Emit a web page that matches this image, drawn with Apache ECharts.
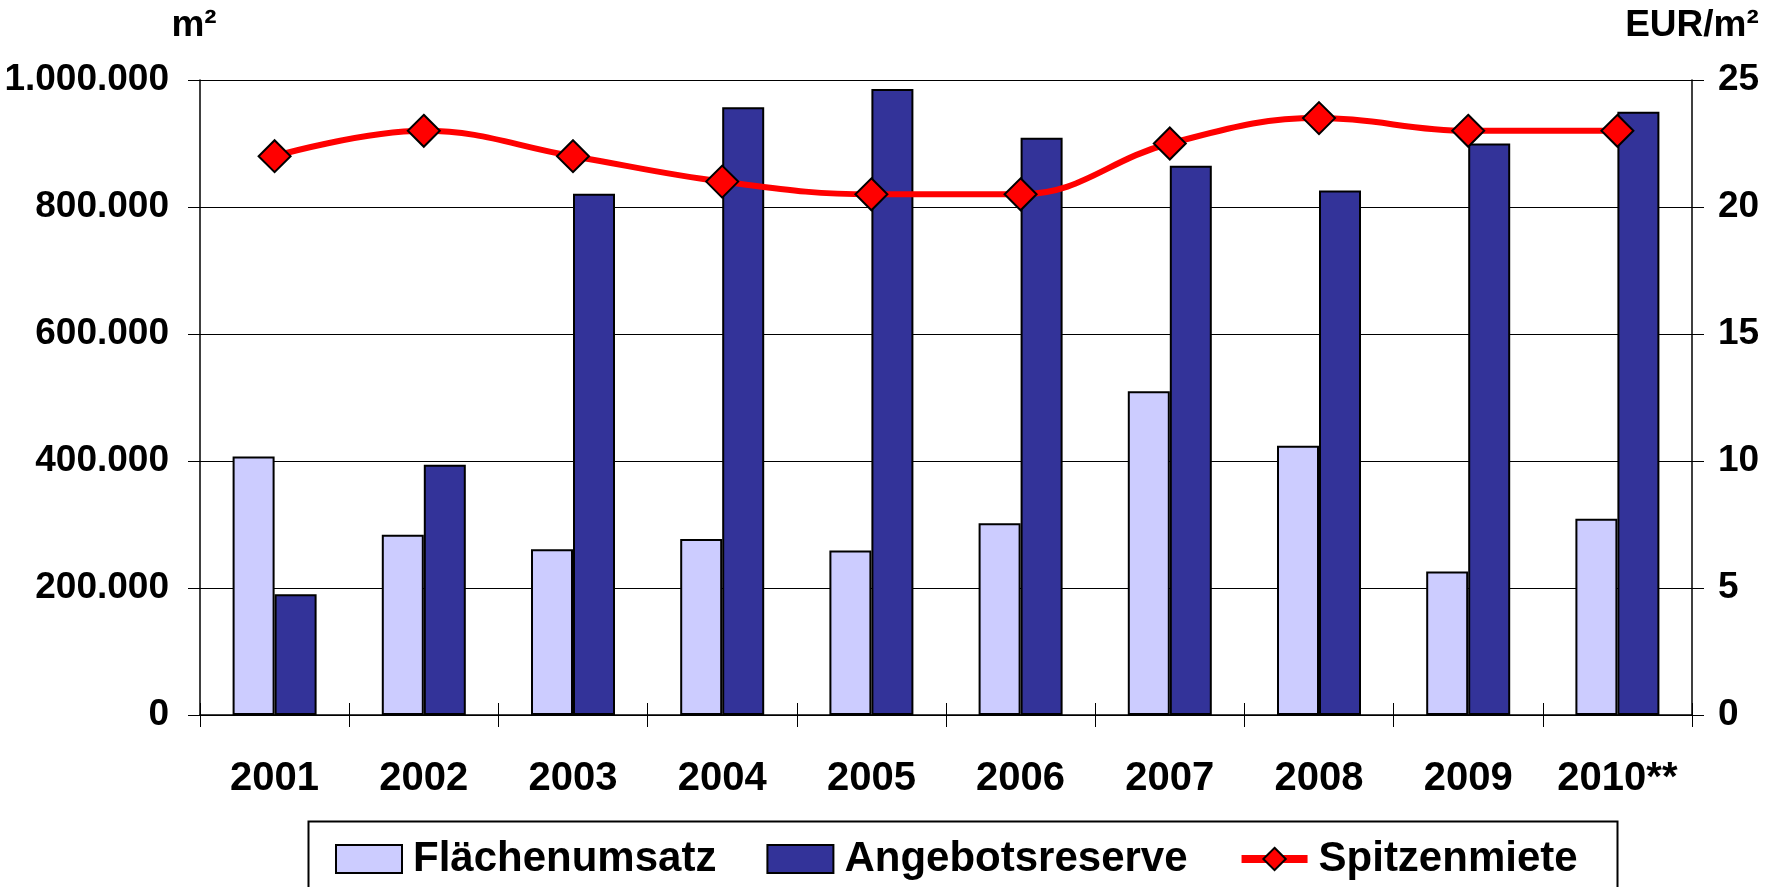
<!DOCTYPE html>
<html>
<head>
<meta charset="utf-8">
<script src="https://cdn.jsdelivr.net/npm/echarts@6/dist/echarts.min.js"></script>
<style>
html,body{margin:0;padding:0;background:#fff;}
#chart{width:1767px;height:887px;}
</style>
</head>
<body>
<div id="chart"></div>
<script>
const years = ['2001','2002','2003','2004','2005','2006','2007','2008','2009','2010**'];
const flaechenumsatz = [407000, 284000, 261000, 277000, 259000, 302000, 510000, 424000, 226000, 309000];
const angebotsreserve = [190000, 394000, 821000, 957000, 986000, 909000, 865000, 826000, 900000, 950000];
const spitzenmiete = [22.0, 23.0, 22.0, 21.0, 20.5, 20.5, 22.5, 23.5, 23.0, 23.0];
const leftTicks = {min: 0, max: 1000000, interval: 200000};
const rightTicks = {min: 0, max: 25, interval: 5};

const FONT = '"Liberation Sans", Arial, sans-serif';
const chart = echarts.init(document.getElementById('chart'), null, {renderer: 'canvas'});

function fmtDots(v) {
  return String(v).replace(/\B(?=(\d{3})+(?!\d))/g, '.');
}

chart.setOption({
  animation: false,
  backgroundColor: '#fff',
  textStyle: {fontFamily: FONT},
  grid: {left: 200, right: 75, top: 80, bottom: 172, containLabel: false},
  legend: {
    left: 335, top: 838, padding: 0,
    itemWidth: 66, itemHeight: 28, itemGap: 50,
    textStyle: {fontFamily: FONT, fontWeight: 'bold', fontSize: 42, color: '#000', padding: [0, 0, 0, 6]},
    data: [
      {name: 'Flächenumsatz', icon: 'rect'},
      {name: 'Angebotsreserve', icon: 'rect'},
      {name: 'Spitzenmiete', lineStyle: {width: 8, color: '#FF0000'}}
    ]
  },
  graphic: [{
    type: 'rect', left: 306, top: 819, z: -1,
    shape: {width: 1309, height: 90},
    style: {fill: 'none', stroke: '#000', lineWidth: 2}
  }],
  xAxis: [{
    type: 'category', data: years, position: 'bottom',
    boundaryGap: true,
    axisLine: {lineStyle: {color: '#000', width: 1.5}},
    axisTick: {show: true, length: 12, lineStyle: {color: '#000', width: 1}},
    axisLabel: {fontFamily: FONT, fontWeight: 'bold', fontSize: 40, color: '#000', margin: 44, interval: 0}
  }, {
    type: 'category', data: years, position: 'bottom',
    boundaryGap: true,
    axisLine: {show: false},
    axisTick: {show: true, inside: true, length: 12, lineStyle: {color: '#000', width: 1}},
    axisLabel: {show: false}
  }],
  yAxis: [{
    type: 'value', position: 'left',
    min: leftTicks.min, max: leftTicks.max, interval: leftTicks.interval,
    name: 'm²', nameLocation: 'end', nameGap: 36,
    nameTextStyle: {fontFamily: FONT, fontWeight: 'bold', fontSize: 37, color: '#000', align: 'center', padding: [0, 12, 0, 0]},
    axisLine: {show: true, lineStyle: {color: '#000', width: 1.5}},
    axisTick: {show: true, length: 12, lineStyle: {color: '#000'}},
    splitLine: {show: true, lineStyle: {color: '#000', width: 1}},
    axisLabel: {fontFamily: FONT, fontWeight: 'bold', fontSize: 37, color: '#000', margin: 31, formatter: fmtDots}
  }, {
    type: 'value', position: 'right',
    min: rightTicks.min, max: rightTicks.max, interval: rightTicks.interval,
    name: 'EUR/m²', nameLocation: 'end', nameGap: 36,
    nameTextStyle: {fontFamily: FONT, fontWeight: 'bold', fontSize: 37, color: '#000', align: 'center'},
    axisLine: {show: true, lineStyle: {color: '#000', width: 1.5}},
    axisTick: {show: true, length: 12, lineStyle: {color: '#000'}},
    splitLine: {show: false},
    axisLabel: {fontFamily: FONT, fontWeight: 'bold', fontSize: 37, color: '#000', margin: 26}
  }],
  series: [{
    name: 'Flächenumsatz', type: 'bar', yAxisIndex: 0, xAxisIndex: 0,
    data: flaechenumsatz, barWidth: 42, barGap: '0%',
    itemStyle: {color: '#CCCCFF', borderColor: '#000', borderWidth: 2}
  }, {
    name: 'Angebotsreserve', type: 'bar', yAxisIndex: 0, xAxisIndex: 0,
    data: angebotsreserve, barWidth: 42, barGap: '0%',
    itemStyle: {color: '#333399', borderColor: '#000', borderWidth: 2}
  }, {
    name: 'Spitzenmiete', type: 'line', yAxisIndex: 1, xAxisIndex: 0,
    data: spitzenmiete, smooth: 0.4, z: 5,
    symbol: 'diamond', symbolSize: 32,
    lineStyle: {color: '#FF0000', width: 6},
    itemStyle: {color: '#FF0000', borderColor: '#000', borderWidth: 2}
  }]
});
</script>
</body>
</html>
